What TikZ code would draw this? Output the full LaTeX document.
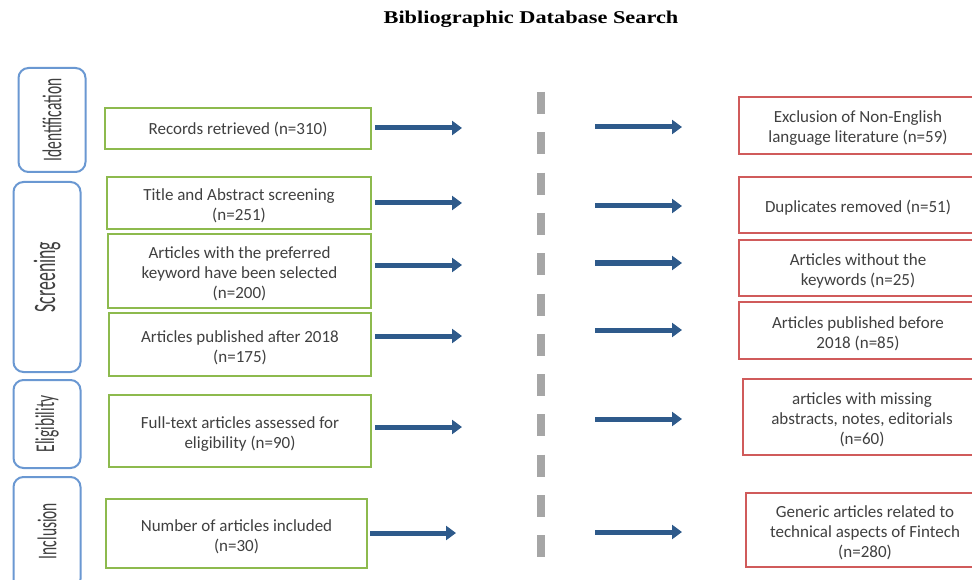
\documentclass[tikz,border=0pt]{standalone}
\usepackage{fontspec}
\setmainfont{Carlito}
\newfontfamily\titlefont{Liberation Serif}
\usetikzlibrary{arrows.meta}

\definecolor{txt}{HTML}{404040}
\definecolor{phaseblue}{HTML}{6A98D2}
\definecolor{keepgreen}{HTML}{8DBA4E}
\definecolor{dropred}{HTML}{D05B5B}
\definecolor{arrblue}{HTML}{2E5A8B}
\definecolor{divgray}{HTML}{A6A6A6}

\tikzset{
  phase/.style={draw=phaseblue, line width=2pt, rounded corners=10pt,
    minimum width=67pt, inner sep=0pt},
  phaselabel/.style={rotate=90, text=txt, font=\fontsize{15.5}{18}\selectfont, inner sep=0pt},
  boxtext/.style={text=txt, align=center, font=\fontsize{17}{20}\selectfont,
    inner sep=0pt, yshift=-3pt},
  keep/.style={draw=keepgreen, line width=2pt, inner sep=0pt},
  drop/.style={draw=dropred, line width=2pt, inner sep=0pt, minimum width=238pt},
  flow/.style={draw=arrblue, line width=5pt,
    -{Triangle[length=10pt,width=14pt]}},
  divider/.style={draw=divgray, line width=8pt, dash pattern=on 22pt off 18.3pt}
}

\newcommand{\stretchlabel}[1]{\scalebox{1}[1.75]{#1}}

\begin{document}
\begin{tikzpicture}[x=1pt, y=-1pt]
\clip (0,0) rectangle (972,580);
\fill[white] (0,0) rectangle (972,580);

% title
\node (title) at (531,19) {\titlefont\bfseries\fontsize{18}{20}\selectfont\scalebox{1.24}[1]{Bibliographic Database Search}};

% phase boxes on the left
\node[phase, minimum height=104pt] (pid) at (52,120) {};
\node[phaselabel] (lid) at (52,120) {\stretchlabel{Identification}};
\node[phase, minimum height=190pt] (psc) at (47,277) {};
\node[phaselabel, font=\fontsize{17.8}{20}\selectfont] (lsc) at (47,277) {\stretchlabel{Screening}};
\node[phase, minimum height=88pt] (pel) at (47,424) {};
\node[phaselabel] (lel) at (47,424) {\stretchlabel{Eligibility}};
\node[phase, minimum height=112pt] (pin) at (47,533) {};
\node[phaselabel] (lin) at (47,531) {\stretchlabel{Inclusion}};

% records kept at each stage
\node[keep, minimum width=266pt, minimum height=41pt,
  label={[boxtext, yshift=2pt]center:Records retrieved (n=310)}] (rec) at (238,128.5) {};
\node[keep, minimum width=264pt, minimum height=52pt,
  label={[boxtext]center:Title and Abstract screening\\(n=251)}] (tas) at (239,203) {};
\node[keep, minimum width=263pt, minimum height=74pt,
  label={[boxtext]center:Articles with the preferred\\keyword have been selected\\(n=200)}] (kw) at (239.5,271) {};
\node[keep, minimum width=262pt, minimum height=63pt,
  label={[boxtext]center:Articles published after 2018\\(n=175)}] (aft) at (240,344.5) {};
\node[keep, minimum width=262pt, minimum height=72pt,
  label={[boxtext]center:Full-text articles assessed for\\eligibility (n=90)}] (ft) at (240,431) {};
\node[keep, minimum width=261pt, minimum height=69pt,
  label={[boxtext]center:Number of articles included\\(n=30)}] (inc) at (236.5,533.5) {};

% records excluded at each stage
\node[drop, minimum height=57pt,
  label={[boxtext]center:Exclusion of Non-English\\language literature (n=59)}] (nonen) at (858,125.5) {};
\node[drop, minimum height=56pt,
  label={[boxtext]center:Duplicates removed (n=51)}] (dup) at (858,205) {};
\node[drop, minimum height=56pt,
  label={[boxtext]center:Articles without the\\keywords (n=25)}] (nokw) at (858,268) {};
\node[drop, minimum height=57pt,
  label={[boxtext]center:Articles published before\\2018 (n=85)}] (bef) at (858,330.5) {};
\node[drop, minimum height=76pt,
  label={[boxtext]center:articles with missing\\abstracts, notes, editorials\\(n=60)}] (miss) at (862,417) {};
\node[drop, minimum height=74pt,
  label={[boxtext]center:Generic articles related to\\technical aspects of Fintech\\(n=280)}] (gen) at (865,530) {};

% dashed divider
\coordinate (dtop) at (541,92);
\coordinate (dbot) at (541,558);
\draw[divider] (dtop) -- (dbot);

% arrow anchors
\coordinate (l1s) at (375,128); \coordinate (l1e) at (462,128);
\coordinate (l2s) at (375,203); \coordinate (l2e) at (462,203);
\coordinate (l3s) at (375,265); \coordinate (l3e) at (462,265);
\coordinate (l4s) at (375,336); \coordinate (l4e) at (462,336);
\coordinate (l5s) at (375,427); \coordinate (l5e) at (462,427);
\coordinate (l6s) at (370,533); \coordinate (l6e) at (456,533);

\coordinate (r1s) at (595,127); \coordinate (r1e) at (682,127);
\coordinate (r2s) at (595,206); \coordinate (r2e) at (682,206);
\coordinate (r3s) at (595,263); \coordinate (r3e) at (682,263);
\coordinate (r4s) at (595,330); \coordinate (r4e) at (682,330);
\coordinate (r5s) at (595,419); \coordinate (r5e) at (682,419);
\coordinate (r6s) at (595,532); \coordinate (r6e) at (682,532);

\foreach \i in {1,...,6} {
  \draw[flow] (l\i s) -- (l\i e);
  \draw[flow] (r\i s) -- (r\i e);
}
\end{tikzpicture}
\end{document}
